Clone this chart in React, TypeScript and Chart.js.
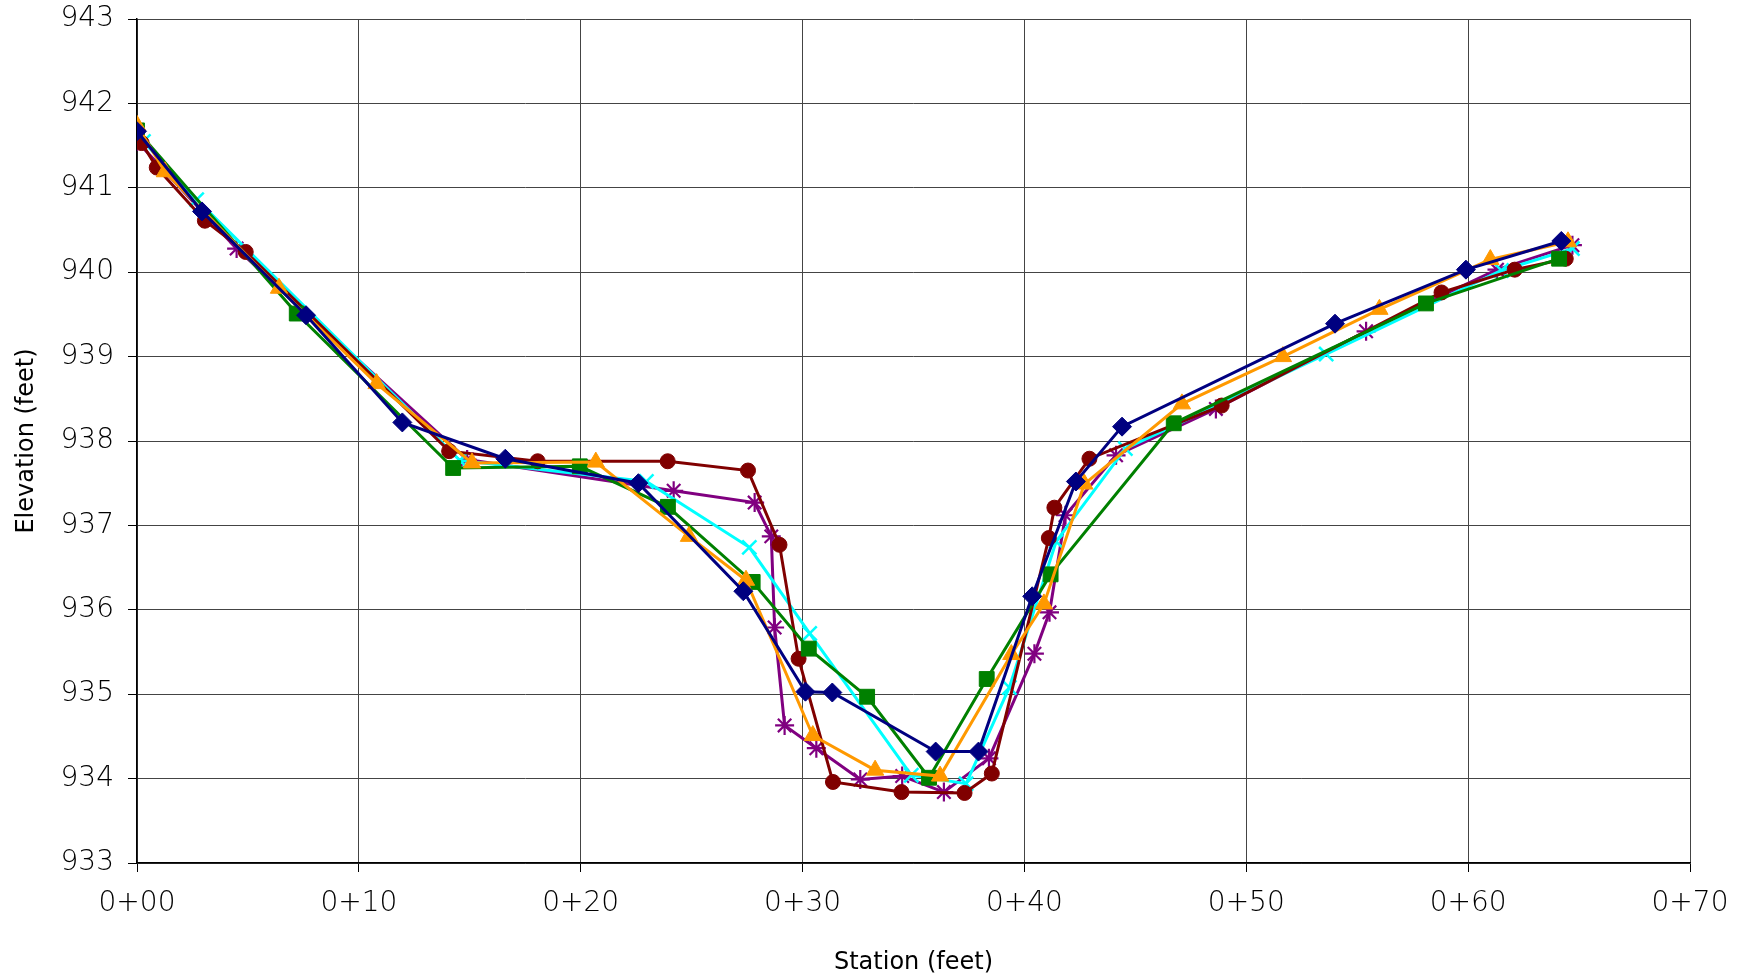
import React, { useEffect, useRef } from "react";
import { Chart, registerables } from "chart.js";

Chart.register(...registerables);

// X-axis tick labels (station, feet)
const xTickValues = [0, 10, 20, 30, 40, 50, 60, 70];
const xTickLabels = ["0+00", "0+10", "0+20", "0+30", "0+40", "0+50", "0+60", "0+70"];

// Series 1 (navy diamonds)
const s1X = [0, 2.93, 7.62, 11.96, 16.6, 22.6, 27.33, 30.13, 31.34, 36.0, 37.93, 40.35, 42.32, 44.4, 54.0, 59.9, 64.2];
const s1Y = [941.67, 940.72, 939.49, 938.22, 937.79, 937.5, 936.22, 935.03, 935.02, 934.32, 934.32, 936.16, 937.52, 938.17, 939.39, 940.03, 940.37];

// Series 2 (dark red circles)
const s2X = [0.21, 0.89, 3.06, 4.9, 14.07, 18.06, 23.92, 27.54, 28.96, 29.82, 31.37, 34.46, 37.3, 38.53, 41.1, 41.35, 42.93, 48.89, 58.8, 62.1, 64.4];
const s2Y = [941.53, 941.24, 940.61, 940.24, 937.88, 937.76, 937.76, 937.65, 936.77, 935.42, 933.96, 933.84, 933.83, 934.06, 936.85, 937.21, 937.79, 938.42, 939.76, 940.03, 940.16];

// Series 3 (orange triangles)
const s3X = [0, 1.26, 6.4, 10.8, 15.1, 20.68, 24.88, 27.45, 30.46, 33.27, 36.2, 39.41, 40.88, 42.7, 47.1, 51.65, 56.0, 61.0, 64.5];
const s3Y = [941.74, 941.19, 939.81, 938.68, 937.74, 937.75, 936.87, 936.35, 934.51, 934.1, 934.03, 935.47, 936.07, 937.49, 938.44, 939.0, 939.56, 940.15, 940.36];

// Series 4 (green squares)
const s4X = [0, 7.2, 14.25, 19.96, 23.93, 27.75, 30.28, 32.91, 35.7, 38.3, 41.18, 46.73, 58.1, 64.1];
const s4Y = [941.68, 939.51, 937.68, 937.7, 937.22, 936.33, 935.54, 934.97, 934.01, 935.18, 936.42, 938.21, 939.63, 940.16];

// Series 5 (cyan crosses)
const s5X = [0.29, 2.69, 14.55, 22.96, 27.6, 30.32, 34.9, 37.37, 39.32, 41.43, 44.55, 53.6, 61.5, 64.7];
const s5Y = [941.55, 940.86, 937.77, 937.52, 936.74, 935.72, 934.04, 933.94, 935.08, 936.81, 937.91, 939.03, 940.02, 940.28];

// Series 6 (purple stars)
const s6X = [0, 4.49, 14.88, 24.19, 27.84, 28.59, 28.74, 29.19, 30.62, 32.6, 34.49, 36.37, 38.4, 40.45, 41.13, 41.85, 44.13, 48.63, 55.4, 61.3, 64.7];
const s6Y = [941.55, 940.28, 937.78, 937.41, 937.27, 936.87, 935.79, 934.63, 934.36, 933.99, 934.03, 933.84, 934.24, 935.48, 935.97, 937.12, 937.83, 938.38, 939.3, 940.03, 940.32];

const toPoints = (xs: number[], ys: number[]) => xs.map((x, i) => ({ x, y: ys[i] }));

const TICK_FONT = { family: '"DejaVu Sans", sans-serif', size: 28, weight: "300" as any };
const TITLE_FONT = { family: '"DejaVu Sans", sans-serif', size: 24, weight: "normal" as any };

export default function App() {
  const ref = useRef<HTMLCanvasElement | null>(null);

  useEffect(() => {
    if (!ref.current) return;
    const mk = (label: string, xs: number[], ys: number[], color: string, style: string, radius: number, bw: number) => ({
      label,
      data: toPoints(xs, ys),
      borderColor: color,
      backgroundColor: color,
      borderWidth: 3,
      pointStyle: style,
      pointRadius: radius,
      pointBorderColor: color,
      pointBackgroundColor: color,
      pointBorderWidth: bw,
      tension: 0,
      fill: false,
      showLine: true,
    });
    const chart = new Chart(ref.current, {
      type: "scatter",
      data: {
        datasets: [
          mk("Series 1", s1X, s1Y, "#000080", "rectRot", 9.5, 1),
          mk("Series 3", s3X, s3Y, "#FF9900", "triangle", 10, 1),
          mk("Series 4", s4X, s4Y, "#008000", "rect", 10.5, 1),
          mk("Series 2", s2X, s2Y, "#800000", "circle", 7.5, 1),
          mk("Series 5", s5X, s5Y, "#00FFFF", "crossRot", 10, 2.5),
          mk("Series 6", s6X, s6Y, "#800080", "star", 9.5, 2.2),
        ] as any,
      },
      options: {
        animation: false,
        responsive: false,
        layout: { padding: { left: 0, right: 66, top: 19, bottom: 0 } },
        plugins: { legend: { display: false }, tooltip: { enabled: false } },
        scales: {
          x: {
            type: "linear",
            min: 0,
            max: 70,
            afterBuildTicks: (s: any) => {
              s.ticks = xTickValues.map((v) => ({ value: v }));
            },
            ticks: {
              callback: (v: any) => {
                const i = xTickValues.indexOf(Number(v));
                return i >= 0 ? xTickLabels[i] : "";
              },
              font: TICK_FONT,
              color: "#000",
              padding: 15,
              maxRotation: 0,
              autoSkip: false,
            },
            grid: { color: "#444", lineWidth: 1, tickLength: 9, tickColor: "#000" },
            border: { color: "#000", width: 1.5 },
            title: {
              display: true,
              text: "Station (feet)",
              font: TITLE_FONT,
              color: "#000",
              padding: { top: 3, bottom: 3 },
            },
            afterFit: (s: any) => {
              s.height = 117;
              s.paddingLeft = 0;
              s.paddingRight = 0;
            },
          },
          y: {
            type: "linear",
            min: 933,
            max: 943,
            ticks: { stepSize: 1, font: TICK_FONT, color: "#000", padding: 14 },
            grid: { color: "#444", lineWidth: 1, tickLength: 9, tickColor: "#000" },
            border: { color: "#000", width: 1.5 },
            title: {
              display: true,
              text: "Elevation (feet)",
              font: TITLE_FONT,
              color: "#000",
              padding: { top: 12, bottom: 12 },
            },
            afterFit: (s: any) => {
              s.width = 137;
              s.paddingTop = 0;
              s.paddingBottom = 0;
            },
          },
        },
      },
    });
    return () => chart.destroy();
  }, []);

  return (
    <div style={{ position: "fixed", left: 0, top: 0, width: 1756, height: 980, background: "#fff" }}>
      <canvas ref={ref} width={1756} height={980} style={{ display: "block" }} />
    </div>
  );
}
